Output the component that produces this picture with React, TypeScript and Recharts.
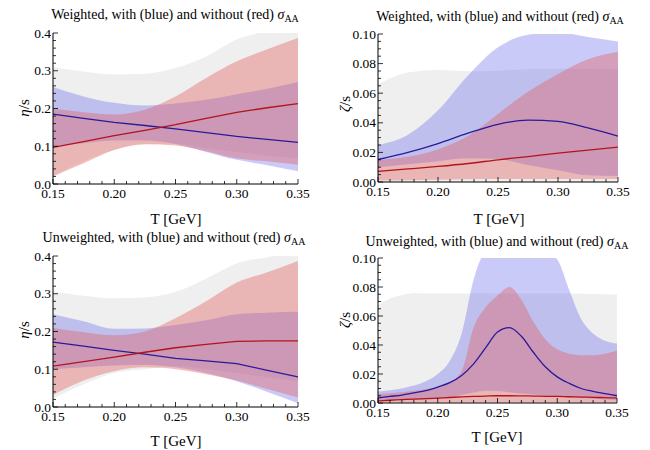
import React from 'react';
import { ComposedChart, Area, Line, XAxis, YAxis } from 'recharts';

const FONT = '"Liberation Serif", "Times New Roman", serif';

// temperature grid (GeV)
const temps = [0.15, 0.175, 0.2, 0.225, 0.25, 0.275, 0.3, 0.325, 0.35];
const tempsFine = [
  0.15, 0.16, 0.17, 0.18, 0.19, 0.2, 0.21, 0.22, 0.23, 0.24, 0.25, 0.26, 0.27, 0.28, 0.29, 0.3,
  0.31, 0.32, 0.33, 0.34, 0.35,
];

// weighted, eta/s
const etaWGrayLo = [0.02, 0.06, 0.09, 0.105, 0.106, 0.095, 0.085, 0.075, 0.068];
const etaWGrayHi = [0.309, 0.298, 0.29, 0.292, 0.307, 0.338, 0.383, 0.405, 0.42];
const etaWBlueLo = [0.1, 0.108, 0.115, 0.115, 0.106, 0.085, 0.064, 0.05, 0.034];
const etaWBlueHi = [0.257, 0.232, 0.215, 0.208, 0.213, 0.223, 0.238, 0.252, 0.27];
const etaWRedLo = [0.02, 0.055, 0.09, 0.105, 0.102, 0.087, 0.068, 0.06, 0.051];
const etaWRedHi = [0.2, 0.19, 0.184, 0.197, 0.232, 0.281, 0.325, 0.357, 0.387];
const etaWBlue = [0.185, 0.174, 0.163, 0.155, 0.146, 0.136, 0.126, 0.118, 0.11];
const etaWRed = [0.097, 0.112, 0.128, 0.142, 0.157, 0.174, 0.19, 0.202, 0.213];

// weighted, zeta/s
const zetaWGrayLo = [0, 0, 0, 0, 0, 0, 0, 0, 0];
const zetaWGrayHi = [0.066, 0.074, 0.0757, 0.0748, 0.0752, 0.0762, 0.0765, 0.0763, 0.0762];
const zetaWBlueLo = [0.01, 0.012, 0.014, 0.016, 0.0155, 0.0115, 0.008, 0.0045, 0.004];
const zetaWBlueHi = [0.025, 0.032, 0.0485, 0.072, 0.091, 0.0995, 0.101, 0.098, 0.095];
const zetaWRedLo = [0.001, 0.0012, 0.0015, 0.0018, 0.002, 0.002, 0.002, 0.002, 0.002];
const zetaWRedHi = [0.015, 0.017, 0.022, 0.031, 0.046, 0.061, 0.073, 0.083, 0.088];
const zetaWBlue = [0.0152, 0.02, 0.026, 0.033, 0.039, 0.0418, 0.041, 0.0365, 0.031];
const zetaWRed = [0.0072, 0.0088, 0.0105, 0.0125, 0.015, 0.0172, 0.0195, 0.0215, 0.0235];

// unweighted, eta/s
const etaUGrayLo = [0.022, 0.06, 0.09, 0.1, 0.108, 0.1, 0.09, 0.078, 0.068];
const etaUGrayHi = [0.305, 0.295, 0.288, 0.29, 0.305, 0.34, 0.38, 0.397, 0.41];
const etaUBlueLo = [0.1, 0.105, 0.11, 0.112, 0.105, 0.09, 0.068, 0.04, 0.01];
const etaUBlueHi = [0.246, 0.227, 0.207, 0.208, 0.217, 0.23, 0.246, 0.25, 0.252];
const etaURedLo = [0.032, 0.07, 0.095, 0.105, 0.1, 0.087, 0.07, 0.048, 0.025];
const etaURedHi = [0.209, 0.198, 0.19, 0.2, 0.235, 0.28, 0.33, 0.357, 0.387];
const etaUBlue = [0.172, 0.161, 0.15, 0.14, 0.129, 0.122, 0.115, 0.097, 0.08];
const etaURed = [0.108, 0.12, 0.132, 0.145, 0.157, 0.166, 0.174, 0.175, 0.175];

// unweighted, zeta/s
const zetaUGrayLo = [0, 0, 0, 0, 0, 0, 0, 0, 0, 0, 0, 0, 0, 0, 0, 0, 0, 0, 0, 0, 0];
const zetaUGrayHi = [
  0.067, 0.072, 0.0744, 0.0758, 0.0755, 0.0755, 0.0755, 0.0755, 0.0757, 0.0757, 0.0755, 0.0755,
  0.0756, 0.0756, 0.0756, 0.0755, 0.0755, 0.0754, 0.0752, 0.075, 0.0748,
];
const zetaUBlueLo = [
  0.002, 0.002, 0.002, 0.0022, 0.0025, 0.003, 0.004, 0.0055, 0.0072, 0.0084, 0.0082, 0.0075,
  0.0065, 0.0058, 0.005, 0.0045, 0.004, 0.0035, 0.003, 0.0025, 0.002,
];
const zetaUBlueHi = [
  0.008, 0.0088, 0.01, 0.012, 0.015, 0.02, 0.029, 0.048, 0.085, 0.104, 0.106, 0.107, 0.107, 0.106,
  0.104, 0.099, 0.078, 0.058, 0.048, 0.043, 0.041,
];
const zetaURedLo = [
  0.0005, 0.0005, 0.0005, 0.0005, 0.0005, 0.0005, 0.0005, 0.0005, 0.0005, 0.0005, 0.0005, 0.0005,
  0.0005, 0.0005, 0.0005, 0.0005, 0.0005, 0.0005, 0.0005, 0.0005, 0.0005,
];
const zetaURedHi = [
  0.006, 0.0067, 0.0074, 0.0085, 0.0097, 0.011, 0.0143, 0.022, 0.052, 0.066, 0.074, 0.08, 0.071,
  0.056, 0.044, 0.037, 0.034, 0.033, 0.033, 0.034, 0.036,
];
const zetaUBlue = [
  0.0035, 0.0045, 0.0055, 0.007, 0.0085, 0.011, 0.014, 0.019, 0.027, 0.038, 0.049, 0.052, 0.046,
  0.035, 0.025, 0.018, 0.0135, 0.01, 0.008, 0.0065, 0.005,
];
const zetaURed = [
  0.0015, 0.0019, 0.0023, 0.0027, 0.003, 0.0034, 0.0038, 0.0042, 0.0045, 0.0048, 0.005, 0.005,
  0.0049, 0.0048, 0.0046, 0.0045, 0.0043, 0.0041, 0.0039, 0.0037, 0.0035,
];

// ticks
const tTicks = [
  0.15, 0.16, 0.17, 0.18, 0.19, 0.2, 0.21, 0.22, 0.23, 0.24, 0.25, 0.26, 0.27, 0.28, 0.29, 0.3,
  0.31, 0.32, 0.33, 0.34, 0.35,
];
const etaTicks = [
  0, 0.02, 0.04, 0.06, 0.08, 0.1, 0.12, 0.14, 0.16, 0.18, 0.2, 0.22, 0.24, 0.26, 0.28, 0.3, 0.32,
  0.34, 0.36, 0.38, 0.4,
];
const zetaTicks = [
  0, 0.005, 0.01, 0.015, 0.02, 0.025, 0.03, 0.035, 0.04, 0.045, 0.05, 0.055, 0.06, 0.065, 0.07,
  0.075, 0.08, 0.085, 0.09, 0.095, 0.1,
];

const makeRows = (x, gLo, gHi, bLo, bHi, rLo, rHi, bLine, rLine) =>
  x.map((t, i) => ({
    t,
    gray: [gLo[i], gHi[i]],
    blue: [bLo[i], bHi[i]],
    red: [rLo[i], rHi[i]],
    bLine: bLine[i],
    rLine: rLine[i],
  }));

const isMajor = (v, step) => Math.abs(v / step - Math.round(v / step)) < 1e-6;

const tickText = { fontFamily: FONT, fontSize: 13.5, fontWeight: 400 };

const BottomTick = (p) => {
  const v = p.payload.value;
  const major = isMajor(v, 0.05);
  return (
    <g>
      <line x1={p.x} x2={p.x} y1={p.y} y2={p.y - (major ? 5 : 3)} stroke="#000" strokeWidth={0.8} />
      {major && (
        <text x={p.x} y={p.y + 13.5} textAnchor="middle" style={tickText} fill="#000">
          {v.toFixed(2)}
        </text>
      )}
    </g>
  );
};

const TopTick = (p) => {
  const major = isMajor(p.payload.value, 0.05);
  return <line x1={p.x} x2={p.x} y1={p.y} y2={p.y + (major ? 5 : 3)} stroke="#000" strokeWidth={0.8} />;
};

const LeftTick = (p) => {
  const v = p.payload.value;
  const major = isMajor(v, p.step);
  return (
    <g>
      <line x1={p.x} x2={p.x + (major ? 5 : 3)} y1={p.y} y2={p.y} stroke="#000" strokeWidth={0.8} />
      {major && (
        <text x={p.x - 2} y={p.y + 4.5} textAnchor="end" style={tickText} fill="#000">
          {v.toFixed(p.digits)}
        </text>
      )}
    </g>
  );
};

const RightTick = (p) => {
  const major = isMajor(p.payload.value, p.step);
  return <line x1={p.x} x2={p.x - (major ? 5 : 3)} y1={p.y} y2={p.y} stroke="#000" strokeWidth={0.8} />;
};

const Sigma = () => (
  <span>
    <i>σ</i>
    <span style={{ fontSize: 10, position: 'relative', top: 3 }}>AA</span>
  </span>
);

const YW = 40;
const MT = 6;
const MR = 22;
const XH = 20;

const Panel = ({ box, rows, yMax, yTicks, yStep, digits, title, titleX, titleY, yLabel, yLabelX, yLabelY, xLabelX, xLabelY, curve }) => {
  const w = YW + box.w + MR;
  const h = MT + box.h + XH;
  return (
    <>
      <div
        style={{
          position: 'absolute',
          left: titleX,
          top: titleY - 8,
          transform: 'translateX(-50%)',
          whiteSpace: 'nowrap',
          fontFamily: FONT,
          fontSize: 14,
          lineHeight: '16px',
        }}
      >
        {title} <Sigma />
      </div>
      <div
        style={{
          position: 'absolute',
          left: yLabelX,
          top: yLabelY,
          transform: 'translate(-50%, -50%) rotate(-90deg)',
          whiteSpace: 'nowrap',
          fontFamily: FONT,
          fontSize: 15,
          lineHeight: '16px',
        }}
      >
        {yLabel}
      </div>
      <div
        style={{
          position: 'absolute',
          left: xLabelX,
          top: xLabelY - 8,
          transform: 'translateX(-50%)',
          whiteSpace: 'nowrap',
          fontFamily: FONT,
          fontSize: 15,
          lineHeight: '16px',
        }}
      >
        T [GeV]
      </div>
      <div style={{ position: 'absolute', left: box.x - YW, top: box.y - MT }}>
        <ComposedChart width={w} height={h} data={rows} margin={{ top: MT, right: MR, bottom: 0, left: 0 }}>
          <XAxis
            dataKey="t"
            type="number"
            domain={[0.15, 0.35]}
            allowDataOverflow
            ticks={tTicks}
            interval={0}
            height={XH}
            tickSize={0}
            tickMargin={0}
            tickLine={false}
            stroke="#000"
            tick={(p) => <BottomTick {...p} />}
          />
          <XAxis
            xAxisId="top"
            dataKey="t"
            type="number"
            orientation="top"
            domain={[0.15, 0.35]}
            allowDataOverflow
            ticks={tTicks}
            interval={0}
            height={0}
            tickSize={0}
            tickMargin={0}
            tickLine={false}
            stroke="#000"
            tick={(p) => <TopTick {...p} />}
          />
          <YAxis
            type="number"
            domain={[0, yMax]}
            allowDataOverflow
            ticks={yTicks}
            interval={0}
            width={YW}
            tickSize={0}
            tickMargin={0}
            tickLine={false}
            stroke="#000"
            tick={(p) => <LeftTick {...p} step={yStep} digits={digits} />}
          />
          <YAxis
            yAxisId="right"
            orientation="right"
            type="number"
            domain={[0, yMax]}
            allowDataOverflow
            ticks={yTicks}
            interval={0}
            width={0}
            tickSize={0}
            tickMargin={0}
            tickLine={false}
            stroke="#000"
            tick={(p) => <RightTick {...p} step={yStep} />}
          />
          <Area type="monotone" dataKey="gray" stroke="none" fill="#efefef" fillOpacity={1} isAnimationActive={false} activeDot={false} />
          <Area type="monotone" dataKey="blue" stroke="none" fill="#6666ee" fillOpacity={0.35} isAnimationActive={false} activeDot={false} />
          <Area type="monotone" dataKey="red" stroke="none" fill="#e06060" fillOpacity={0.4} isAnimationActive={false} activeDot={false} />
          <Line type={curve} dataKey="bLine" stroke="#2a1a9a" strokeWidth={1.3} dot={false} activeDot={false} isAnimationActive={false} />
          <Line type={curve} dataKey="rLine" stroke="#b3141a" strokeWidth={1.3} dot={false} activeDot={false} isAnimationActive={false} />
        </ComposedChart>
      </div>
    </>
  );
};

const EtaLabel = () => (
  <span>
    <i>η</i>/s
  </span>
);
const ZetaLabel = () => (
  <span>
    <i>ζ</i>/s
  </span>
);

export default function App() {
  return (
    <div style={{ position: 'absolute', left: 0, top: 0, width: 650, height: 450, background: '#fff', overflow: 'hidden' }}>
      <Panel
        box={{ x: 53, y: 33, w: 245, h: 151 }}
        rows={makeRows(temps, etaWGrayLo, etaWGrayHi, etaWBlueLo, etaWBlueHi, etaWRedLo, etaWRedHi, etaWBlue, etaWRed)}
        yMax={0.4}
        yTicks={etaTicks}
        yStep={0.1}
        digits={1}
        title="Weighted, with (blue) and without (red)"
        titleX={175}
        titleY={15}
        yLabel={<EtaLabel />}
        yLabelX={24}
        yLabelY={108}
        xLabelX={176}
        xLabelY={219}
        curve="linear"
      />
      <Panel
        box={{ x: 378, y: 34, w: 240, h: 148 }}
        rows={makeRows(temps, zetaWGrayLo, zetaWGrayHi, zetaWBlueLo, zetaWBlueHi, zetaWRedLo, zetaWRedHi, zetaWBlue, zetaWRed)}
        yMax={0.1}
        yTicks={zetaTicks}
        yStep={0.02}
        digits={2}
        title="Weighted, with (blue) and without (red)"
        titleX={500}
        titleY={17}
        yLabel={<ZetaLabel />}
        yLabelX={345}
        yLabelY={104}
        xLabelX={499}
        xLabelY={219}
        curve="monotone"
      />
      <Panel
        box={{ x: 53, y: 256, w: 245, h: 151 }}
        rows={makeRows(temps, etaUGrayLo, etaUGrayHi, etaUBlueLo, etaUBlueHi, etaURedLo, etaURedHi, etaUBlue, etaURed)}
        yMax={0.4}
        yTicks={etaTicks}
        yStep={0.1}
        digits={1}
        title="Unweighted, with (blue) and without (red)"
        titleX={174}
        titleY={238}
        yLabel={<EtaLabel />}
        yLabelX={24}
        yLabelY={330}
        xLabelX={176}
        xLabelY={441}
        curve="linear"
      />
      <Panel
        box={{ x: 378, y: 258, w: 239, h: 145 }}
        rows={makeRows(tempsFine, zetaUGrayLo, zetaUGrayHi, zetaUBlueLo, zetaUBlueHi, zetaURedLo, zetaURedHi, zetaUBlue, zetaURed)}
        yMax={0.1}
        yTicks={zetaTicks}
        yStep={0.02}
        digits={2}
        title="Unweighted, with (blue) and without (red)"
        titleX={497}
        titleY={242}
        yLabel={<ZetaLabel />}
        yLabelX={345}
        yLabelY={320}
        xLabelX={497}
        xLabelY={437}
        curve="monotone"
      />
    </div>
  );
}
